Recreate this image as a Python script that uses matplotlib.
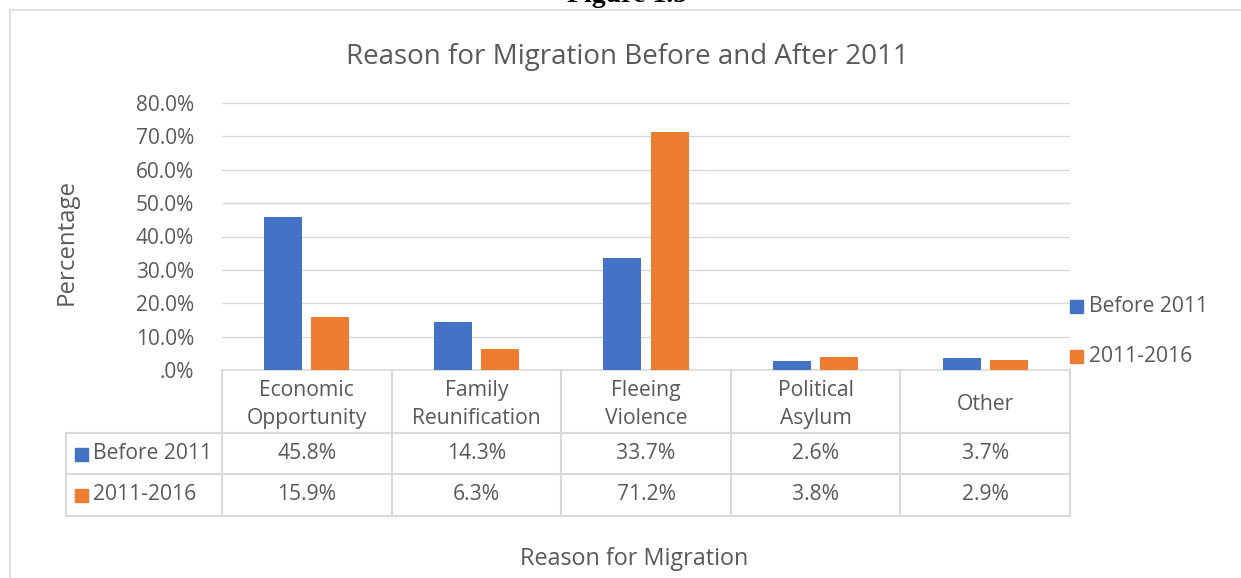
import matplotlib
matplotlib.use("Agg")
import matplotlib.pyplot as plt
import numpy as np

categories = ["Economic\nOpportunity", "Family\nReunification", "Fleeing\nViolence", "Political\nAsylum", "Other"]
series_names = ["Before 2011", "2011-2016"]
before_2011 = [45.8, 14.3, 33.7, 2.6, 3.7]
after_2011 = [15.9, 6.3, 71.2, 3.8, 2.9]
yticks = [0, 10, 20, 30, 40, 50, 60, 70, 80]
ytick_labels = [".0%", "10.0%", "20.0%", "30.0%", "40.0%", "50.0%", "60.0%", "70.0%", "80.0%"]
colors = ["#4472C4", "#ED7D31"]

W, H = 1241, 578
FONT = "Open Sans"
TXT = "#595959"
GRID = "#D9D9D9"

fig = plt.figure(figsize=(W / 100, H / 100), dpi=100)

# overlay in pixel coordinates
ov = fig.add_axes([0, 0, 1, 1])
ov.set_xlim(0, W)
ov.set_ylim(H, 0)
ov.axis("off")

x0, x1 = 222, 1070
y_top, y_zero = 103, 370
ax = fig.add_axes([x0 / W, 1 - y_zero / H, (x1 - x0) / W, (y_zero - y_top) / H])
n = len(categories)
x = np.arange(n)
bw = 0.224
off = 0.139
ax.bar(x - off, before_2011, bw, color=colors[0], zorder=3)
ax.bar(x + off, after_2011, bw, color=colors[1], zorder=3)
ax.set_xlim(-0.5, n - 0.5)
ax.set_ylim(0, 80)
ax.set_yticks(yticks)
ax.set_yticklabels(ytick_labels, fontfamily=FONT, fontsize=15, color=TXT)
ax.set_xticks([])
ax.grid(axis="y", color=GRID, linewidth=1, zorder=0)
ax.tick_params(axis="y", length=0, pad=20)
for s in ["top", "right", "left"]:
    ax.spines[s].set_visible(False)
ax.spines["bottom"].set_color(GRID)
ax.spines["bottom"].set_linewidth(1.2)
ax.patch.set_alpha(0)

# frame of chart area
ov.plot([9.5, 9.5], [9.5, H + 5], color=GRID, lw=1.2)
ov.plot([9.5, W + 5], [9.5, 9.5], color=GRID, lw=1.2)

# partial heading above chart (cut off by the page edge, as in the source)
ov.text(627, 1.5, "Figure 1.5", fontfamily="Liberation Serif", fontweight="bold",
        fontsize=20, ha="center", va="baseline", color="black")

# title
ov.text(627, 57, "Reason for Migration Before and After 2011", fontfamily=FONT,
        fontsize=20, color=TXT, ha="center", va="center")

# axis labels
ov.text(67, 242, "Percentage", fontfamily=FONT, fontsize=17.3, color=TXT,
        rotation=90, ha="center", va="center")
ov.text(634, 559, "Reason for Migration", fontfamily=FONT, fontsize=16.8, color=TXT,
        ha="center", va="center")

# data table
col_edges = [x0 + (x1 - x0) * i / n for i in range(n + 1)]
row_hdr_bot, row1_bot, row2_bot = 433, 474, 516
tl = 66
lw_t = 1.5
for cx in col_edges:
    ov.plot([cx, cx], [y_zero, row2_bot], color=GRID, lw=lw_t)
ov.plot([tl, tl], [row_hdr_bot, row2_bot], color=GRID, lw=lw_t)
for yy in [row_hdr_bot, row1_bot, row2_bot]:
    ov.plot([tl, x1], [yy, yy], color=GRID, lw=lw_t)

fs_t = 15.2
for i, cat in enumerate(categories):
    cxm = (col_edges[i] + col_edges[i + 1]) / 2
    ov.text(cxm, (y_zero + row_hdr_bot) / 2 + 3, cat, fontfamily=FONT, fontsize=fs_t,
            color=TXT, ha="center", va="center", linespacing=1.4)
    ov.text(cxm, (row_hdr_bot + row1_bot) / 2, f"{before_2011[i]:.1f}%", fontfamily=FONT,
            fontsize=fs_t, color=TXT, ha="center", va="center")
    ov.text(cxm, (row1_bot + row2_bot) / 2, f"{after_2011[i]:.1f}%", fontfamily=FONT,
            fontsize=fs_t, color=TXT, ha="center", va="center")

for j, (name, c) in enumerate(zip(series_names, colors)):
    yc = (row_hdr_bot + row1_bot) / 2 if j == 0 else (row1_bot + row2_bot) / 2
    ov.add_patch(plt.Rectangle((75, yc - 6), 13, 13, color=c))
    ov.text(93, yc, name, fontfamily=FONT, fontsize=fs_t, color=TXT, ha="left", va="center")

# legend on right
for j, (name, c) in enumerate(zip(series_names, colors)):
    yc = 306 if j == 0 else 356
    ov.add_patch(plt.Rectangle((1070, yc - 6), 13, 13, color=c))
    ov.text(1089, yc, name, fontfamily=FONT, fontsize=fs_t, color=TXT, ha="left", va="center")

fig.savefig("out.png", dpi=100)
